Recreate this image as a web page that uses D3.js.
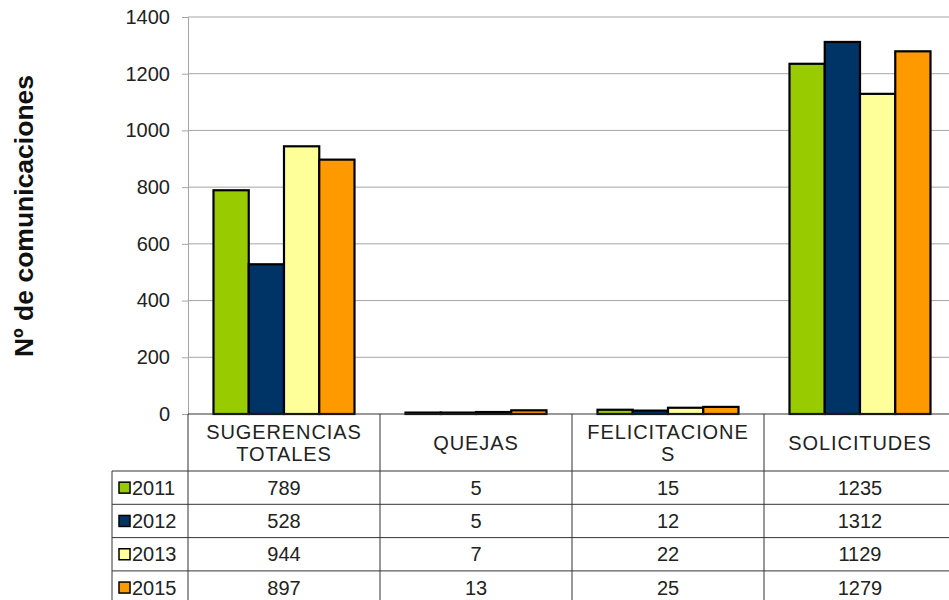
<!DOCTYPE html>
<html>
<head>
<meta charset="utf-8">
<script src="https://cdn.jsdelivr.net/npm/d3@7"></script>
<style>
  body { margin: 0; background: #fff; }
  svg { font-family: "Liberation Sans", Arial, sans-serif; }
</style>
</head>
<body>
<svg id="chart" width="949" height="600"></svg>
<script>
// data
const categories = [['SUGERENCIAS', 'TOTALES'], ['QUEJAS'], ['FELICITACIONE', 'S'], ['SOLICITUDES']]
const years = ['2011', '2012', '2013', '2015']
const values2011 = [789, 5, 15, 1235]
const values2012 = [528, 5, 12, 1312]
const values2013 = [944, 7, 22, 1129]
const values2015 = [897, 13, 25, 1279]
const yTicks = [0, 200, 400, 600, 800, 1000, 1200, 1400]
const colors = ['#99cc00', '#003366', '#ffff99', '#ff9900']

const series = [values2011, values2012, values2013, values2015]

const svg = d3.select('#chart')

const mLeft = 188, mRight = 956, mTop = 17, mBottom = 414
const headerH = 57, rowH = 33.3, legendLeft = 112
const fs = 20

// scales
const x = d3.scaleBand()
  .domain(d3.range(categories.length))
  .range([mLeft, mRight])

const xInner = d3.scaleBand()
  .domain(d3.range(years.length))
  .range([0, 141])

const y = d3.scaleLinear()
  .domain([0, 1400])
  .range([mBottom, mTop])

// gridlines
svg.append('g')
  .selectAll('line')
  .data(yTicks.filter(d => d > 0))
  .join('line')
  .attr('x1', mLeft).attr('x2', mRight)
  .attr('y1', d => y(d)).attr('y2', d => y(d))
  .attr('stroke', '#a6a6a6')
  .attr('stroke-width', 1)

// y axis
const yAxis = d3.axisLeft(y)
  .tickValues(yTicks)
  .tickFormat(d3.format('d'))
  .tickSize(6)
  .tickPadding(12)

const ya = svg.append('g')
  .attr('transform', `translate(${mLeft},0)`)
  .call(yAxis)
ya.select('.domain').attr('stroke', '#a6a6a6')
ya.selectAll('.tick line').attr('stroke', '#a6a6a6')
ya.selectAll('text')
  .attr('font-size', fs)
  .attr('fill', '#222')
  .attr('font-family', '"Liberation Sans", Arial, sans-serif')

// bars
const offset = (x.bandwidth() - 141) / 2
series.forEach((vals, s) => {
  svg.append('g')
    .selectAll('rect')
    .data(vals)
    .join('rect')
    .attr('x', (d, i) => x(i) + offset + xInner(s))
    .attr('y', d => y(d))
    .attr('width', xInner.bandwidth())
    .attr('height', d => mBottom - y(d))
    .attr('fill', colors[s])
    .attr('stroke', '#000')
    .attr('stroke-width', 2.2)
})

// data table
const table = svg.append('g')
const lineColor = '#333'
const tableBottom = mBottom + headerH + rowH * years.length

// horizontal lines
table.append('line')
  .attr('x1', mLeft).attr('x2', mRight)
  .attr('y1', mBottom).attr('y2', mBottom)
  .attr('stroke', lineColor)
years.forEach((yr, r) => {
  const yy = mBottom + headerH + rowH * r
  table.append('line')
    .attr('x1', legendLeft).attr('x2', mRight)
    .attr('y1', yy).attr('y2', yy)
    .attr('stroke', lineColor)
})

// vertical lines
table.append('line')
  .attr('x1', legendLeft).attr('x2', legendLeft)
  .attr('y1', mBottom + headerH).attr('y2', tableBottom)
  .attr('stroke', lineColor)
d3.range(categories.length + 1).forEach(i => {
  const xx = i < categories.length ? x(i) : mRight
  table.append('line')
    .attr('x1', xx).attr('x2', xx)
    .attr('y1', mBottom).attr('y2', tableBottom)
    .attr('stroke', lineColor)
})

// header labels
categories.forEach((lines, i) => {
  const t = table.append('text')
    .attr('x', x(i) + x.bandwidth() / 2)
    .attr('text-anchor', 'middle')
    .attr('font-size', fs)
    .attr('fill', '#222')
    .attr('letter-spacing', 0.9)
  const startY = mBottom + headerH / 2 + 7 - (lines.length - 1) * 11
  lines.forEach((ln, k) => {
    t.append('tspan')
      .attr('x', x(i) + x.bandwidth() / 2)
      .attr('y', startY + k * 22)
      .text(ln)
  })
})

// rows
years.forEach((yr, r) => {
  const cy = mBottom + headerH + rowH * r + rowH / 2
  table.append('rect')
    .attr('x', legendLeft + 7)
    .attr('y', cy - 5.5)
    .attr('width', 11).attr('height', 11)
    .attr('fill', colors[r])
    .attr('stroke', '#000')
    .attr('stroke-width', 1.5)
  table.append('text')
    .attr('x', legendLeft + 20)
    .attr('y', cy + 7)
    .attr('font-size', fs)
    .attr('fill', '#222')
    .text(yr)
  series[r].forEach((v, i) => {
    table.append('text')
      .attr('x', x(i) + x.bandwidth() / 2)
      .attr('y', cy + 7)
      .attr('text-anchor', 'middle')
      .attr('font-size', fs)
      .attr('fill', '#222')
      .text(v)
  })
})

// y axis title
svg.append('text')
  .attr('transform', `translate(33,216) rotate(-90)`)
  .attr('text-anchor', 'middle')
  .attr('font-size', 26.5)
  .attr('font-weight', 'bold')
  .attr('fill', '#111')
  .text('Nº de comunicaciones')
</script>
</body>
</html>
